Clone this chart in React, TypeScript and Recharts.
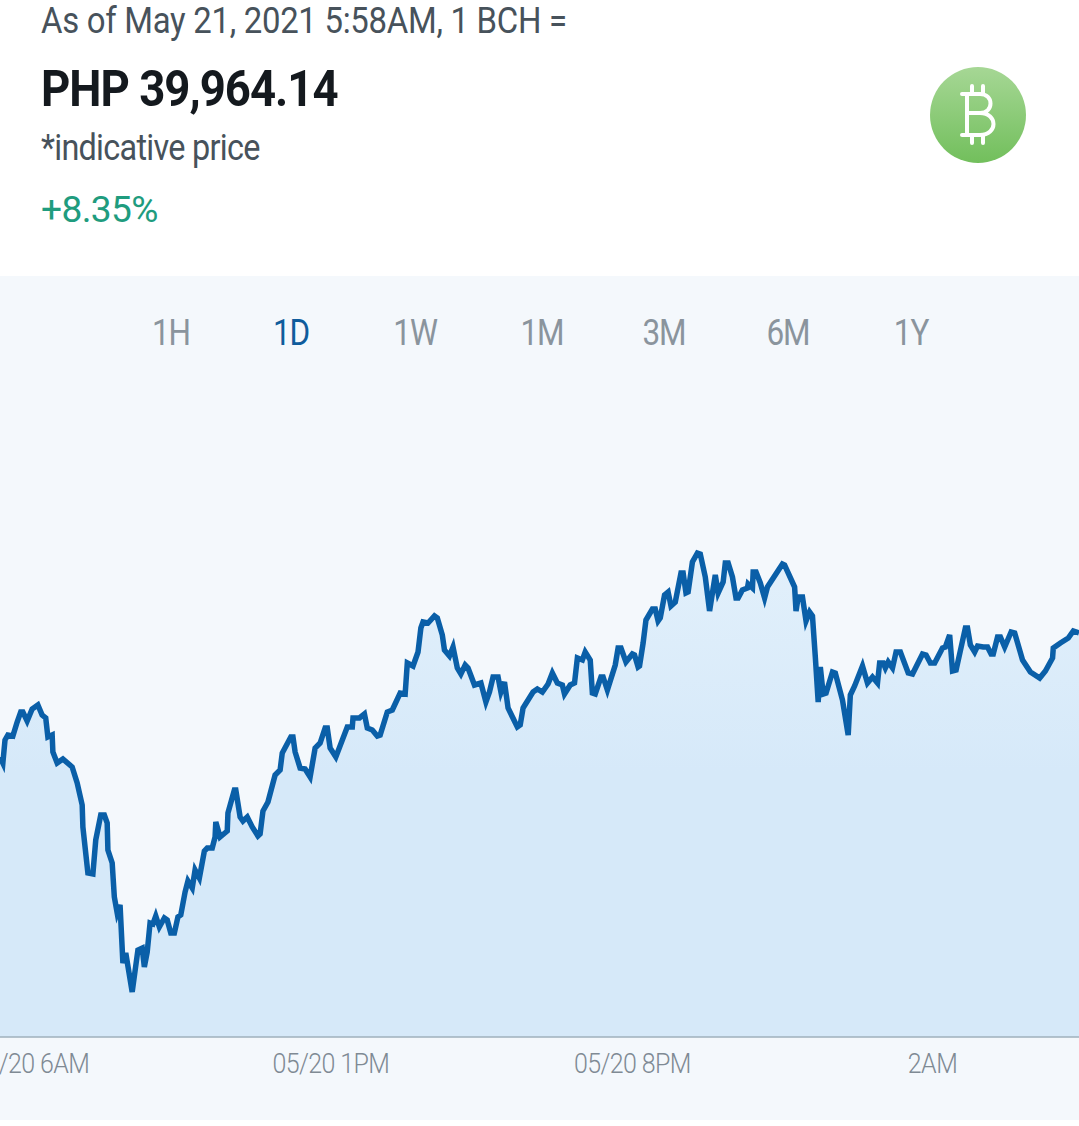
import { Area, AreaChart, XAxis, YAxis } from "recharts";

// minutes after 05/20 6AM
const minutes = [
  -43, -39, -36, -32, -25, -19, -14, -11, -5, 2, 10, 16, 21, 24, 30, 31, 37, 45, 58, 65, 72, 73, 80, 87, 91, 98, 103,
  107, 108, 114, 117, 121, 125, 129, 133, 142, 150, 156, 159, 163, 167, 171, 175, 180, 187, 191, 196, 201, 206, 210,
  216, 220, 226, 230, 236, 243, 247, 254, 258, 259, 265, 275, 276, 285, 287, 293, 297, 303, 310, 318, 321, 325, 332,
  342, 349, 352, 364, 367, 370, 377, 384, 391, 398, 405, 412, 415, 419, 427, 443, 450, 451, 460, 467, 471, 478, 485,
  489, 499, 506, 517, 524, 527, 535, 542, 546, 549, 556, 565, 569, 576, 579, 586, 591, 597, 602, 608, 612, 621, 630,
  637, 642, 647, 654, 658, 663, 668, 681, 685, 689, 703, 709, 716, 724, 730, 737, 744, 747, 755, 761, 765, 772, 776,
  783, 786, 790, 798, 801, 807, 818, 822, 826, 833, 842, 845, 850, 852, 857, 861, 870, 874, 878, 881, 887, 892, 896,
  902, 910, 913, 917, 920, 926, 933, 937, 944, 950, 958, 962, 969, 972, 976, 982, 987, 990, 996, 1003, 1004, 1010,
  1011, 1015, 1021, 1027, 1031, 1052, 1055, 1069, 1071, 1074, 1080, 1085, 1090, 1094, 1098, 1102, 1105, 1109, 1113,
  1122, 1126, 1136, 1144, 1147, 1153, 1164, 1171, 1178, 1185, 1188, 1193, 1196, 1200, 1206, 1211, 1217, 1228, 1234,
  1248, 1253, 1259, 1265, 1276, 1280, 1286, 1290, 1295, 1308, 1311, 1315, 1321, 1325, 1333, 1339, 1344, 1347, 1353,
  1357, 1363, 1372, 1377, 1388, 1399, 1412, 1420, 1430, 1431, 1441, 1452, 1459, 1467,
];

const prices = [
  36964, 36820, 37372, 37492, 37468, 37804, 38044, 38044, 37828, 38116, 38212, 37972, 37900, 37444, 37492, 37084, 36820,
  36916, 36724, 36340, 35812, 35284, 34180, 34156, 34972, 35572, 35572, 35380, 34732, 34420, 33604, 33220, 33412, 32020,
  32260, 31324, 32332, 32380, 31924, 32284, 32980, 32956, 33148, 32884, 33100, 33052, 32740, 32740, 33124, 33172, 33724,
  33988, 33820, 34252, 34060, 34708, 34780, 34780, 35044, 35404, 35044, 35188, 35620, 36172, 36172, 35524, 35428, 35524,
  35284, 35068, 35116, 35668, 35884, 36532, 36652, 37060, 37444, 37444, 37084, 36700, 36676, 36484, 37180, 37300, 37660,
  37660, 37180, 36964, 37684, 37684, 37900, 37900, 37996, 37660, 37612, 37468, 37492, 38044, 38092, 38500, 38476, 39220,
  39148, 39484, 40060, 40204, 40180, 40348, 40300, 39892, 39532, 39388, 39604, 39100, 38956, 39172, 39100, 38692, 38740,
  38284, 38524, 38884, 38884, 38524, 38764, 38140, 37684, 37732, 38140, 38524, 38596, 38524, 38716, 38980, 38740, 38692,
  38476, 38692, 38740, 39340, 39292, 39484, 39292, 38500, 38476, 38884, 38884, 38572, 39172, 39580, 39580, 39244, 39436,
  39412, 39124, 39148, 39700, 40252, 40516, 40516, 40228, 40300, 40852, 40924, 40588, 40684, 41380, 41380, 40900, 40924,
  41644, 41860, 41836, 41284, 40468, 41332, 40900, 41164, 41620, 41620, 41284, 40780, 40780, 40972, 41020, 41116, 41020,
  41404, 41404, 41140, 40780, 41044, 41596, 41572, 41044, 40468, 40804, 40804, 40228, 40444, 40348, 39364, 38284, 39124,
  38476, 38500, 39004, 38980, 38332, 37492, 38452, 38668, 39148, 38740, 38884, 38740, 39220, 39220, 39100, 39244, 39100,
  39484, 39484, 38980, 38956, 39436, 39412, 39220, 39220, 39580, 39604, 39892, 39028, 39052, 40060, 40060, 39652, 39484,
  39628, 39604, 39604, 39436, 39436, 39844, 39844, 39604, 39964, 39940, 39292, 39004, 38860, 39028, 39340, 39580, 39700,
  39820, 39988, 39940,
];

const tickMinutes = [0, 420, 842, 1262];
const tickLabels = ["05/20 6AM", "05/20 1PM", "05/20 8PM", "2AM"];
const ranges = ["1H", "1D", "1W", "1M", "3M", "6M", "1Y"];
const rangeCenters = [171, 291, 415, 542, 664, 788, 911];

const chartData = minutes.map((m, i) => ({ minute: m, price: prices[i] }));

function Txt({ x, y, size, weight = 400, color, sx = 1, sy = 1, spacing = 0, center = false, children }: any) {
  return (
    <div
      style={{
        position: "absolute",
        left: x,
        top: y,
        fontFamily: "Roboto",
        fontSize: size,
        fontWeight: weight,
        color,
        letterSpacing: spacing,
        lineHeight: 1,
        whiteSpace: "nowrap",
        transformOrigin: center ? "center top" : "left top",
        transform: `${center ? "translateX(-50%) " : ""}scale(${sx}, ${sy})`,
      }}
    >
      {children}
    </div>
  );
}

function CoinIcon() {
  return (
    <svg width={96} height={96} style={{ position: "absolute", left: 930, top: 67 }}>
      <defs>
        <linearGradient id="coin" x1="0" y1="0" x2="0" y2="1">
          <stop offset="0%" stopColor="#a6d795" />
          <stop offset="100%" stopColor="#72bf5c" />
        </linearGradient>
      </defs>
      <circle cx={48} cy={48} r={48} fill="url(#coin)" />
      <g fill="none" stroke="#fff" strokeWidth={4} strokeLinecap="round" strokeLinejoin="round">
        <path d="M32 27 H50 C64 27 64 46 50 46 H37 M50 46 C68 46 68 68 50 68 H32 M37 27 V68" />
        <path d="M42 27 V19 M53 27 V19 M42 68 V76 M53 68 V76" />
      </g>
    </svg>
  );
}

function AxisTick({ x, y, payload }: any) {
  const i = tickMinutes.indexOf(payload.value);
  return (
    <text
      transform={`translate(${x}, ${y + 28}) scale(1, 1.12)`}
      textAnchor="middle"
      fontFamily="Roboto"
      fontWeight={300}
      fontSize={25}
      letterSpacing={-0.6}
      fill="#7f8a94"
    >
      {tickLabels[i]}
    </text>
  );
}

export default function App() {
  return (
    <div
      style={{
        position: "absolute",
        left: 0,
        top: 0,
        width: 1079,
        height: 1126,
        background: "#fff",
        overflow: "hidden",
      }}
    >
      <Txt x={41} y={3} size={35} color="#47525b" sx={0.94} sy={1.04} spacing={-0.3}>
        As of May 21, 2021 5:58AM, 1 BCH =
      </Txt>
      <Txt x={41} y={63} size={46} weight={700} color="#14191e" sx={0.99} sy={1.1} spacing={-1}>
        PHP 39,964.14
      </Txt>
      <Txt x={41} y={129} size={36} color="#47525b" sx={0.9} sy={1.04} spacing={-0.8}>
        *indicative price
      </Txt>
      <Txt x={41} y={191} size={36} color="#1f9c7e" sx={1.03} sy={1.03} spacing={-0.6}>
        +8.35%
      </Txt>
      <CoinIcon />

      <div style={{ position: "absolute", left: 0, top: 276, width: 1079, height: 844, background: "#f4f8fc" }} />
      {ranges.map((r, i) => (
        <Txt
          key={r}
          x={rangeCenters[i]}
          y={315}
          size={35}
          color={r === "1D" ? "#0f5c9c" : "#8a949d"}
          sx={0.9}
          sy={1.03}
          spacing={-1.2}
          center
        >
          {r}
        </Txt>
      ))}

      <div style={{ position: "absolute", left: 0, top: 400 }}>
        <AreaChart width={1079} height={720} data={chartData} margin={{ top: 0, right: 0, bottom: 0, left: 0 }}>
          <defs>
            <linearGradient id="areaFill" x1="0" y1="0" x2="0" y2="1">
              <stop offset="0%" stopColor="#e2f0fb" />
              <stop offset="45%" stopColor="#d6e9f9" />
              <stop offset="100%" stopColor="#d6e9f9" />
            </linearGradient>
          </defs>
          <XAxis
            type="number"
            dataKey="minute"
            domain={[-43, 1467]}
            ticks={tickMinutes}
            tick={<AxisTick />}
            interval={0}
            tickLine={false}
            height={83}
            stroke="#9fb0bd"
            strokeWidth={1.5}
            allowDataOverflow
          />
          <YAxis type="number" domain={[30244, 45532]} hide />
          <Area
            type="linear"
            dataKey="price"
            stroke="#0a5fa8"
            strokeWidth={5.5}
            fill="url(#areaFill)"
            fillOpacity={1}
            isAnimationActive={false}
            dot={false}
            activeDot={false}
          />
        </AreaChart>
      </div>
    </div>
  );
}
